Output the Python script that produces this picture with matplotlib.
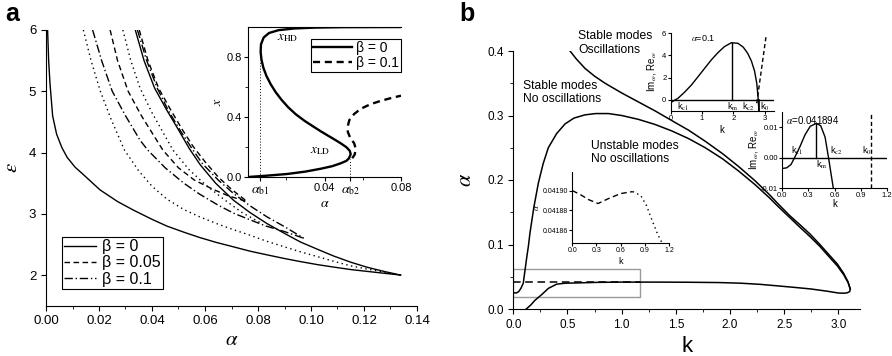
import matplotlib
matplotlib.use("Agg")
import matplotlib.pyplot as plt
from matplotlib.patches import Rectangle
from matplotlib.ticker import MultipleLocator, FixedLocator

plt.rcParams['font.family'] = ['Liberation Sans', 'DejaVu Sans']
plt.rcParams['mathtext.fontset'] = 'stix'

# ---- panel a: epsilon vs alpha boundaries ----
# beta = 0, solid
a0_low = [0.0006, 0.0010, 0.0015, 0.0025, 0.004, 0.006, 0.008, 0.011, 0.0141, 0.0204, 0.027, 0.033,
          0.040, 0.0456, 0.052, 0.0582, 0.0645, 0.0708, 0.077, 0.0834, 0.090, 0.096, 0.1025, 0.1086,
          0.115, 0.1212, 0.1275, 0.1338]
e0_low = [6.0, 5.5, 5.13, 4.6, 4.3, 4.08, 3.92, 3.76, 3.64, 3.39, 3.2, 3.06,
          2.91, 2.80, 2.70, 2.61, 2.53, 2.46, 2.39, 2.33, 2.27, 2.22, 2.17, 2.13,
          2.09, 2.06, 2.03, 2.00]
a0_up = [0.0337, 0.037, 0.041, 0.0456, 0.050, 0.054, 0.0582, 0.064, 0.0708, 0.077, 0.0834, 0.090,
         0.096, 0.1025, 0.1086, 0.115, 0.121, 0.1275, 0.1338]
e0_up = [6.0, 5.5, 5.05, 4.69, 4.37, 4.07, 3.80, 3.5, 3.22, 3.02, 2.84, 2.68,
         2.54, 2.42, 2.31, 2.21, 2.13, 2.06, 2.0]
# beta = 0.05, dashed (closed tongue)
a5_low = [0.0242, 0.027, 0.031, 0.036, 0.0441, 0.050, 0.056, 0.063, 0.069, 0.0759]
e5_low = [6.0, 5.5, 5.0, 4.6, 4.04, 3.75, 3.55, 3.40, 3.29, 3.20]
a5_up = [0.0352, 0.0385, 0.0425, 0.047, 0.0515, 0.0555, 0.060, 0.065, 0.070, 0.0759]
e5_up = [6.0, 5.5, 5.05, 4.7, 4.37, 4.1, 3.85, 3.6, 3.4, 3.20]
# beta = 0.1, dash-dot (closed tongue)
a1_low = [0.0176, 0.021, 0.025, 0.030, 0.0355, 0.0384, 0.045, 0.052, 0.058, 0.065, 0.0708,
          0.0771, 0.083, 0.090, 0.0973]
e1_low = [6.0, 5.5, 5.0, 4.6, 4.2, 4.04, 3.75, 3.5, 3.32, 3.14, 3.01,
          2.9, 2.80, 2.71, 2.60]
a1_up = [0.0345, 0.038, 0.042, 0.046, 0.0505, 0.055, 0.059, 0.065, 0.0708, 0.077, 0.0834, 0.090, 0.0973]
e1_up = [6.0, 5.5, 5.05, 4.7, 4.37, 4.07, 3.82, 3.55, 3.33, 3.13, 2.95, 2.79, 2.60]
# dotted curves
ad_1 = [0.0141, 0.017, 0.0205, 0.0245, 0.0296, 0.035, 0.040, 0.0456, 0.052, 0.058, 0.065, 0.0708,
        0.077, 0.0834, 0.090, 0.096, 0.1025, 0.109, 0.115, 0.121, 0.1275, 0.1338]
ed_1 = [6.0, 5.5, 5.0, 4.55, 4.04, 3.7, 3.45, 3.24, 3.07, 2.95, 2.83, 2.74,
        2.65, 2.55, 2.46, 2.38, 2.30, 2.22, 2.15, 2.10, 2.05, 2.0]
ad_2 = [0.029, 0.032, 0.0355, 0.040, 0.0479, 0.054, 0.060, 0.067, 0.074, 0.0815]
ed_2 = [6.0, 5.5, 5.05, 4.65, 4.04, 3.72, 3.48, 3.24, 3.02, 2.84]

# inset a: x vs alpha
ins_a0 = [0.0, 0.01, 0.0204, 0.030, 0.038, 0.044, 0.0484, 0.0515, 0.0528, 0.0537, 0.0532, 0.0515,
          0.0488, 0.0455, 0.0418, 0.0380, 0.0342, 0.0295, 0.0250, 0.0210, 0.0175, 0.0145, 0.0118,
          0.0096, 0.0080, 0.0070, 0.0066, 0.0068, 0.0082, 0.011, 0.016, 0.024, 0.035, 0.05, 0.08]
ins_x0 = [0.0, 0.009, 0.02, 0.036, 0.055, 0.072, 0.091, 0.108, 0.125, 0.152, 0.175, 0.198,
          0.222, 0.248, 0.276, 0.305, 0.336, 0.375, 0.418, 0.465, 0.515, 0.565, 0.62,
          0.675, 0.73, 0.785, 0.835, 0.885, 0.93, 0.96, 0.979, 0.99, 0.996, 0.999, 1.0]
ins_a1 = [0.0545, 0.0558, 0.0563, 0.0555, 0.0535, 0.0522, 0.0522, 0.053, 0.0555, 0.059, 0.064,
          0.0695, 0.075, 0.08]
ins_x1 = [0.125, 0.15, 0.19, 0.225, 0.26, 0.30, 0.34, 0.38, 0.42, 0.455, 0.485,
          0.508, 0.527, 0.542]
alpha_b1, x_b1 = 0.0065, 0.78
alpha_b2, x_b2 = 0.0535, 0.12

# ---- panel b: alpha vs k ----
k_top = [0.524, 0.58, 0.662, 0.75, 0.847, 1.0, 1.155, 1.31, 1.464, 1.62, 1.772, 1.93, 2.079,
         2.23, 2.36, 2.45, 2.55, 2.65, 2.74, 2.83, 2.92, 2.99, 3.05, 3.09, 3.11]
a_top = [0.400, 0.388, 0.373, 0.361, 0.350, 0.335, 0.321, 0.307, 0.292, 0.277, 0.260, 0.241, 0.221,
         0.199, 0.178, 0.162, 0.145, 0.130, 0.116, 0.100, 0.083, 0.070, 0.055, 0.042, 0.031]
k_loop = [0.0, 0.03, 0.05, 0.07, 0.092, 0.108, 0.124, 0.139, 0.154, 0.19, 0.231, 0.275, 0.323, 0.40,
          0.478, 0.56, 0.662, 0.76, 0.878, 1.0, 1.155, 1.31, 1.464, 1.62, 1.772, 1.93, 2.079, 2.23,
          2.36, 2.45, 2.55, 2.65, 2.74, 2.83, 2.92, 2.99, 3.05, 3.09, 3.11, 3.105, 3.08, 3.05, 3.0,
          2.9, 2.75, 2.59, 2.43, 2.28, 2.1, 1.9, 1.6, 1.3, 1.0, 0.78, 0.6, 0.478, 0.40, 0.324, 0.26,
          0.2, 0.16, 0.12]
a_loop = [0.025, 0.025, 0.027, 0.032, 0.040, 0.060, 0.080, 0.097, 0.118, 0.158, 0.195, 0.225, 0.250,
          0.272, 0.287, 0.296, 0.301, 0.303, 0.303, 0.300, 0.294, 0.286, 0.276, 0.264, 0.250, 0.233,
          0.214, 0.193, 0.173, 0.158, 0.142, 0.126, 0.112, 0.097, 0.080, 0.067, 0.053, 0.041, 0.031,
          0.027, 0.025, 0.0245, 0.0248, 0.0275, 0.031, 0.0336, 0.036, 0.0382, 0.040, 0.041, 0.0415,
          0.0417, 0.0417, 0.0413, 0.0405, 0.040, 0.0385, 0.032, 0.022, 0.0135, 0.006, 0.0]
alpha_dash = 0.0419
box_k, box_a0, box_a1 = 1.17, 0.018, 0.0625

# inset b1 (alpha = 0.1)
b1_k = [0.03, 0.15, 0.24, 0.45, 0.67, 0.88, 1.09, 1.30, 1.51, 1.72, 1.94, 2.15, 2.32, 2.46,
        2.58, 2.68, 2.75, 2.79, 2.82]
b1_w = [-0.2, 0.0, 0.15, 0.7, 1.35, 2.1, 2.85, 3.6, 4.25, 4.8, 5.15, 5.1, 4.75, 4.2,
        3.5, 2.6, 1.5, 0.3, -1.0]
b1_dk = [2.75, 3.05]
b1_dw = [-0.3, 5.8]
b1_km, b1_peak, b1_k0 = 1.97, 5.17, 2.81

# inset b2 (alpha = 0.041894)
b2_k = [0.0, 0.05, 0.1, 0.14, 0.2, 0.26, 0.32, 0.39, 0.44, 0.49, 0.53, 0.56, 0.585]
b2_w = [-0.0035, -0.0033, -0.0022, 0.0, 0.0035, 0.0075, 0.0103, 0.0113, 0.0105, 0.0068, 0.0,
        -0.0055, -0.01]
b2_km, b2_peak, b2_k0 = 0.39, 0.0113, 1.02

# inset b3 (zoom of the flat branch)
b3_k_dash = [0.0, 0.1, 0.2, 0.32, 0.45, 0.6, 0.75]
b3_a_dash = [0.041900, 0.041896, 0.041891, 0.041887, 0.041892, 0.041897, 0.041899]
b3_k_dot = [0.75, 0.85, 0.92, 1.0, 1.06, 1.11]
b3_a_dot = [0.041899, 0.041895, 0.041885, 0.041868, 0.041856, 0.041848]

DASH = (0, (4, 2.5))
DASHDOT = (0, (6, 2, 1, 2))
DOT = (0, (1, 2.5))


def box(l, t, r, b):
    return [l / 892, 1 - b / 356, (r - l) / 892, (b - t) / 356]


def clean(ax, top=False):
    ax.spines['right'].set_visible(False)
    ax.spines['top'].set_visible(top)
    ax.tick_params(direction='out', top=False, right=False)


fig = plt.figure(figsize=(8.92, 3.56), dpi=100)

# ---------------- panel a ----------------
ax = fig.add_axes(box(46, 30, 417, 305.7))
clean(ax)
ax.plot(a0_low, e0_low, color='k', lw=1.0, label='β = 0')
ax.plot(a0_up, e0_up, color='k', lw=1.0)
ax.plot(a5_low, e5_low, color='k', lw=1.0, ls=DASH, label='β = 0.05')
ax.plot(a5_up, e5_up, color='k', lw=1.0, ls=DASH)
ax.plot(a1_low, e1_low, color='k', lw=1.0, ls=DASHDOT, label='β = 0.1')
ax.plot(a1_up, e1_up, color='k', lw=1.0, ls=DASHDOT)
ax.plot(ad_1, ed_1, color='k', lw=1.0, ls=DOT)
ax.plot(ad_2, ed_2, color='k', lw=1.0, ls=DOT)
ax.set_xlim(0, 0.14)
ax.set_ylim(1.5, 6)
ax.set_xticks([0.0, 0.02, 0.04, 0.06, 0.08, 0.10, 0.12, 0.14])
ax.set_xticklabels(['0.00', '0.02', '0.04', '0.06', '0.08', '0.10', '0.12', '0.14'])
ax.xaxis.set_minor_locator(MultipleLocator(0.01))
ax.set_yticks([2, 3, 4, 5, 6])
ax.tick_params(labelsize=9.5)
ax.set_xlabel(r'$\alpha$', fontsize=15, labelpad=2)
ax.set_ylabel(r'$\varepsilon$', fontsize=15, labelpad=6)
leg = ax.legend(loc='lower left', bbox_to_anchor=(0.042, 0.06), borderaxespad=0, fontsize=11.5,
                frameon=True, fancybox=False, edgecolor='k', framealpha=1, handlelength=2.0,
                handletextpad=0.4, labelspacing=0.08, borderpad=0.15)
leg.get_frame().set_linewidth(0.8)

# inset a
ai = fig.add_axes(box(248, 27, 401, 177))
clean(ai, top=True)
ai.plot(ins_a0, ins_x0, color='k', lw=1.7, label='β = 0')
ai.plot(ins_a1, ins_x1, color='k', lw=1.7, ls=(0, (3, 2)), label='β = 0.1')
ai.plot([alpha_b1, alpha_b1], [0, x_b1], color='k', lw=0.7, ls=(0, (1, 2)))
ai.plot([alpha_b2, alpha_b2], [0, x_b2], color='k', lw=0.7, ls=(0, (1, 2)))
ai.set_xlim(0, 0.08)
ai.set_ylim(0, 1.0)
ai.xaxis.set_major_locator(FixedLocator([alpha_b1, 0.04, alpha_b2, 0.08]))
ai.set_xticklabels([r'$\alpha_{\rm b1}$', '0.04', r'$\alpha_{\rm b2}$', '0.08'])
ai.xaxis.set_minor_locator(FixedLocator([0.02, 0.06]))
ai.set_yticks([0.0, 0.4, 0.8])
ai.yaxis.set_minor_locator(FixedLocator([0.2, 0.6]))
ai.tick_params(labelsize=8, length=3, pad=1.5)
ai.tick_params(which='minor', length=2)
for lab in ai.get_xticklabels():
    if lab.get_text().startswith('$'):
        lab.set_fontsize(10)
ai.set_xlabel(r'$\alpha$', fontsize=10, labelpad=-1)
ai.set_ylabel(r'$x$', fontsize=10, labelpad=2)
ai.text(0.015, 0.925, r'$x_{\rm HD}$', fontsize=9.5, ha='left', va='center')
ai.text(0.043, 0.17, r'$x_{\rm LD}$', fontsize=9.5, ha='right', va='center')
leg2 = ai.legend(loc='upper right', bbox_to_anchor=(1.0, 0.92), borderaxespad=0, fontsize=10,
                 frameon=True, fancybox=False, edgecolor='k', framealpha=1, handlelength=2.8,
                 handletextpad=0.3, labelspacing=0.05, borderpad=0.15)
leg2.get_frame().set_linewidth(0.8)

# ---------------- panel b ----------------
bx = fig.add_axes(box(513.3, 51, 860, 309))
clean(bx)
bx.plot(k_top, a_top, color='k', lw=1.1)
bx.plot(k_loop, a_loop, color='k', lw=1.1)
bx.plot([0, box_k], [alpha_dash, alpha_dash], color='k', lw=1.1, ls=(0, (5, 3)))
bx.add_patch(Rectangle((0, box_a0), box_k, box_a1 - box_a0, fill=False, ec='#9a9a9a', lw=1.0))
bx.set_xlim(0, 3.2)
bx.set_ylim(0, 0.4)
bx.set_xticks([0.0, 0.5, 1.0, 1.5, 2.0, 2.5, 3.0])
bx.xaxis.set_minor_locator(MultipleLocator(0.25))
bx.set_yticks([0.0, 0.1, 0.2, 0.3, 0.4])
bx.yaxis.set_minor_locator(MultipleLocator(0.05))
bx.tick_params(labelsize=8.5)
bx.set_xlabel('k', fontsize=16, labelpad=4)
bx.set_ylabel(r'$\alpha$', fontsize=16, labelpad=8)
txt = dict(fontsize=8.7, va='top', ha='left', linespacing=1.15)
bx.text(0.60, 0.432, 'Stable modes\nOscillations', **txt)
bx.text(0.092, 0.355, 'Stable modes\nNo oscillations', **txt)
bx.text(0.715, 0.262, 'Unstable modes\nNo oscillations', **txt)

# inset b1
b1 = fig.add_axes(box(670.5, 33.3, 774, 111))
clean(b1)
b1.plot(b1_k, b1_w, color='k', lw=1.0)
b1.plot(b1_dk, b1_dw, color='k', lw=1.0, ls=(0, (3, 2)))
b1.axhline(0, color='k', lw=1.0)
b1.plot([b1_km, b1_km], [0, b1_peak], color='k', lw=1.0)
b1.plot([b1_k0, b1_k0], [-1, 0], color='k', lw=1.2)
b1.set_xlim(0, 3.3)
b1.set_ylim(-1, 6)
b1.set_xticks([0, 1, 2, 3])
b1.set_yticks([0, 2, 4, 6])
b1.tick_params(labelsize=5.5, length=2, pad=1)
b1.set_xlabel('k', fontsize=7, labelpad=2)
b1.set_ylabel(r'Im$_\omega$, Re$_\omega$', fontsize=7, labelpad=3)
b1.text(0.65, 5.6, r'$\alpha$=0.1', fontsize=6.5, va='center', ha='left')
sub = dict(fontsize=6.5, va='top')
b1.text(0.2, -0.1, r'k$_{\rm c1}$', ha='left', **sub)
b1.text(b1_km, -0.1, r'k$_{\rm m}$', ha='center', **sub)
b1.text(2.68, -0.1, r'k$_{\rm c2}$', ha='right', **sub)
b1.text(2.86, -0.1, r'k$_{\rm 0}$', ha='left', **sub)

# inset b2
b2 = fig.add_axes(box(782.3, 112, 887, 188.3))
clean(b2)
b2.plot(b2_k, b2_w, color='k', lw=1.0)
b2.axhline(0, color='k', lw=1.0)
b2.plot([b2_km, b2_km], [0, b2_peak], color='k', lw=1.0)
b2.plot([b2_k0, b2_k0], [-0.01, 0.015], color='k', lw=1.0, ls=(0, (3, 2)))
b2.set_xlim(0, 1.2)
b2.set_ylim(-0.01, 0.015)
b2.set_xticks([0.0, 0.3, 0.6, 0.9, 1.2])
b2.set_yticks([-0.01, 0.0, 0.01])
b2.set_yticklabels(['-0.01', '0.00', '0.01'])
b2.tick_params(labelsize=5.5, length=2, pad=1)
b2.set_xlabel('k', fontsize=7, labelpad=0)
b2.set_ylabel(r'Im$_\omega$, Re$_\omega$', fontsize=7, labelpad=1)
b2.text(0.04, 0.0145, r'$\alpha$=0.041894', fontsize=7, va='top', ha='left')
b2.text(0.10, 0.0003, r'k$_{\rm c1}$', fontsize=6.5, va='bottom', ha='left')
b2.text(b2_km, -0.0004, r'k$_{\rm m}$', fontsize=6.5, va='top', ha='left')
b2.text(0.55, 0.0003, r'k$_{\rm c2}$', fontsize=6.5, va='bottom', ha='left')
b2.text(b2_k0, 0.0003, r'k$_{\rm 0}$', fontsize=6.5, va='bottom', ha='right')

# inset b3
b3 = fig.add_axes(box(572.3, 171.7, 669, 243.3))
clean(b3)
b3.plot(b3_k_dash, b3_a_dash, color='k', lw=1.0, ls=(0, (4, 2.5)))
b3.plot(b3_k_dot, b3_a_dot, color='k', lw=1.0, ls=(0, (1, 2.5)))
b3.set_xlim(0, 1.2)
b3.set_ylim(0.041847, 0.041919)
b3.set_xticks([0.0, 0.3, 0.6, 0.9, 1.2])
b3.set_yticks([0.04186, 0.04188, 0.04190])
b3.set_yticklabels(['0.04186', '0.04188', '0.04190'])
b3.tick_params(labelsize=5, length=2, pad=1)
b3.set_xlabel('k', fontsize=6.5, labelpad=2)
b3.set_ylabel(r'$\alpha$', fontsize=6.5, labelpad=1)

fig.text(0.006, 0.995, 'a', fontsize=18, fontweight='bold', va='top', ha='left')
fig.text(0.515, 0.995, 'b', fontsize=18, fontweight='bold', va='top', ha='left')

fig.savefig('out.png', dpi=100)
